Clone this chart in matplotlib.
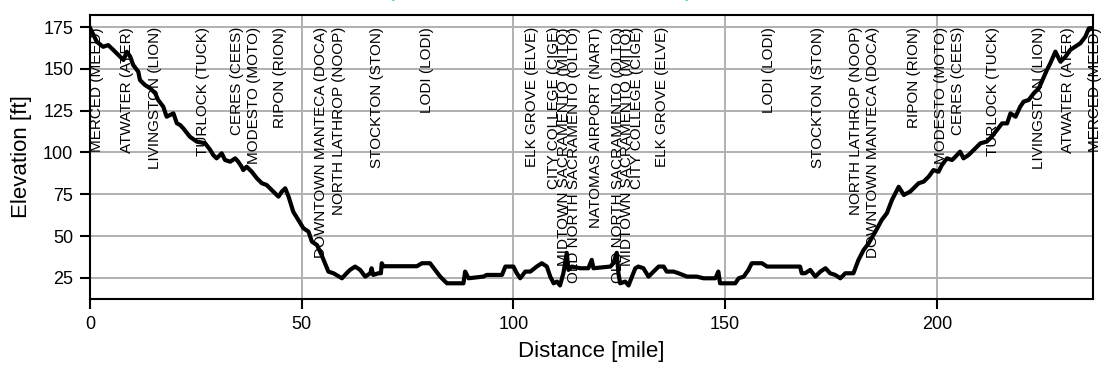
import matplotlib
matplotlib.use("Agg")
import matplotlib.pyplot as plt

plt.rcParams['font.family'] = ['Liberation Sans', 'DejaVu Sans']

# Elevation profile (distance in miles, elevation in feet)
distance_mi = [0.0, 1.6, 3.1, 4.3, 5.5, 7.1, 7.9, 8.7, 9.5, 10.2, 11.4, 11.8, 13.0, 14.2, 15.4,
               16.1, 17.3, 18.1, 18.9, 19.7, 20.5, 21.3, 22.0, 23.6, 25.2, 27.2, 28.4, 29.1, 29.9,
               31.1, 31.9, 33.1, 34.3, 35.0, 35.8, 36.2, 37.0, 38.2, 39.4, 40.6, 41.7, 42.9, 44.5,
               45.3, 46.1, 46.9, 48.0, 49.2, 50.4, 51.6, 52.4, 53.6, 54.7, 56.3, 57.5, 59.5, 60.6,
               61.4, 62.6, 63.8, 65.0, 66.2, 66.5, 66.9, 68.1, 68.7, 68.9, 69.3, 77.2, 78.4, 80.3,
               81.5, 82.7, 84.3, 88.2, 88.6, 89.4, 92.9, 93.7, 97.3, 98.1, 100.0, 100.8, 101.6,
               102.8, 104.0, 105.5, 106.7, 107.9, 108.7, 109.5, 110.3, 111.0, 111.8, 112.2, 112.6,
               113.0, 113.8, 115.8, 117.7, 118.5, 118.9, 122.9, 123.6, 124.4, 124.8, 125.2, 126.4,
               127.2, 128.0, 128.8, 129.5, 130.7, 131.9, 132.7, 134.3, 135.5, 136.2, 137.8, 139.0,
               141.0, 143.3, 144.9, 147.7, 148.4, 148.8, 152.4, 153.2, 154.4, 155.5, 156.3, 158.7,
               159.9, 167.7, 168.1, 168.9, 170.1, 171.3, 172.5, 173.7, 174.8, 176.0, 177.2, 178.4,
               180.3, 181.5, 182.7, 183.9, 185.5, 187.0, 188.2, 189.4, 191.0, 192.2, 193.7, 195.7,
               196.9, 198.1, 199.2, 200.4, 201.2, 202.4, 203.6, 204.4, 205.5, 206.3, 207.5, 209.1,
               210.3, 211.8, 213.0, 214.2, 215.4, 216.6, 217.4, 218.6, 219.7, 220.5, 221.7, 222.9,
               224.1, 225.3, 226.0, 226.8, 228.0, 229.2, 230.4, 231.5, 232.7, 233.9, 235.1, 235.9,
               236.9]
elevation_ft = [174.5, 166.2, 163.2, 164.2, 161.3, 157.3, 155.3, 160.2, 157.3, 152.3, 148.3, 143.3,
                140.3, 138.4, 135.4, 131.4, 127.4, 121.4, 122.4, 123.4, 117.5, 116.4, 114.5, 109.4,
                106.5, 105.5, 101.5, 98.5, 96.5, 99.5, 95.5, 94.5, 96.5, 94.5, 91.5, 89.5, 91.5,
                88.5, 84.6, 81.6, 80.6, 77.6, 73.6, 76.6, 78.6, 73.6, 64.6, 59.7, 54.7, 52.7, 46.7,
                44.7, 38.7, 28.8, 27.8, 24.8, 27.8, 29.8, 31.8, 29.8, 25.8, 27.8, 30.8, 26.8, 27.8,
                27.8, 33.8, 32.0, 32.0, 33.8, 33.8, 29.8, 25.8, 21.8, 21.8, 28.8, 24.8, 25.8, 26.8,
                26.8, 31.8, 31.8, 27.8, 24.8, 28.8, 28.8, 31.8, 33.8, 31.8, 25.8, 21.8, 22.8, 20.5,
                27.8, 33.8, 40.0, 29.8, 31.8, 30.8, 30.8, 35.8, 30.8, 31.8, 33.8, 40.0, 27.8, 21.8,
                22.8, 20.5, 25.8, 30.8, 31.8, 30.8, 25.8, 27.8, 31.8, 31.8, 28.8, 28.8, 27.8, 25.8,
                25.8, 24.8, 24.8, 28.8, 21.8, 21.8, 24.8, 25.8, 29.8, 33.8, 33.8, 31.8, 31.8, 27.8,
                27.8, 29.8, 25.8, 28.8, 30.8, 27.8, 26.8, 24.8, 27.8, 27.8, 35.8, 41.7, 45.7, 52.7,
                59.7, 63.7, 71.6, 79.5, 74.6, 76.6, 81.6, 82.6, 85.6, 89.5, 88.5, 92.5, 96.5, 95.5,
                97.5, 100.5, 96.5, 98.5, 102.5, 105.5, 106.5, 109.5, 113.4, 117.4, 117.4, 123.4,
                121.4, 127.4, 130.4, 131.4, 135.4, 138.4, 145.3, 149.3, 153.3, 160.3, 154.3, 157.3,
                161.3, 163.3, 165.3, 169.3, 174.2, 174.5]

station_names = ["MERCED (MEED)", "ATWATER (ATER)", "LIVINGSTON (LION)", "TURLOCK (TUCK)",
                 "CERES (CEES)", "MODESTO (MOTO)", "RIPON (RION)", "DOWNTOWN MANTECA (DOCA)",
                 "NORTH LATHROP (NOOP)", "STOCKTON (STON)", "LODI (LODI)", "ELK GROVE (ELVE)",
                 "CITY COLLEGE (CIGE)", "MIDTOWN SACRAMENTO (MITO)", "OLD NORTH SACRAMENTO (OLTO)",
                 "NATOMAS AIRPORT (NART)", "OLD NORTH SACRAMENTO (OLTO)", "MIDTOWN SACRAMENTO (MITO)",
                 "CITY COLLEGE (CIGE)", "ELK GROVE (ELVE)", "LODI (LODI)", "STOCKTON (STON)",
                 "NORTH LATHROP (NOOP)", "DOWNTOWN MANTECA (DOCA)", "RIPON (RION)",
                 "MODESTO (MOTO)", "CERES (CEES)", "TURLOCK (TUCK)", "LIVINGSTON (LION)",
                 "ATWATER (ATER)", "MERCED (MEED)"]
station_mi = [1.7, 8.7, 15.4, 26.8, 34.7, 38.8, 44.9, 54.6, 58.9, 67.8, 79.7, 104.3, 109.7,
              111.9, 114.4, 119.4, 124.6, 126.9, 129.3, 135.2, 160.3, 171.9, 180.9, 184.9,
              194.6, 200.9, 204.9, 213.2, 224.1, 231.0, 237.4]

title_text = "Elevation profile: Merced \u2013 Natomas Airport \u2013 Merced"

fig = plt.figure(figsize=(11.14, 3.74), dpi=100)
ax = fig.add_axes([0.0808, 0.2005, 0.9004, 0.7594])

ax.grid(True, color='#b0b0b0', linewidth=1.4)
ax.set_axisbelow(True)
ax.plot(distance_mi, elevation_ft, color='black', linewidth=3, zorder=3)

for name, d in zip(station_names, station_mi):
    ax.text(d, 175, name, rotation=90, ha='center', va='top', fontsize=11, zorder=4)

ax.set_xlim(distance_mi[0], distance_mi[-1])
ax.set_ylim(12.4, 182.2)
ax.set_xticks([0, 50, 100, 150, 200])
ax.set_yticks([25, 50, 75, 100, 125, 150, 175])
ax.tick_params(labelsize=13, length=7, width=1.5, direction='out', pad=5)
for s in ax.spines.values():
    s.set_linewidth(1.5)
ax.set_xlabel('Distance [mile]', fontsize=16, labelpad=6)
ax.set_ylabel('Elevation [ft]', fontsize=16, labelpad=8)

fig.text(0.5, 1.011, title_text, color='#2ec4c9', fontsize=16, ha='center', va='baseline')

fig.savefig('out.png', dpi=100)
